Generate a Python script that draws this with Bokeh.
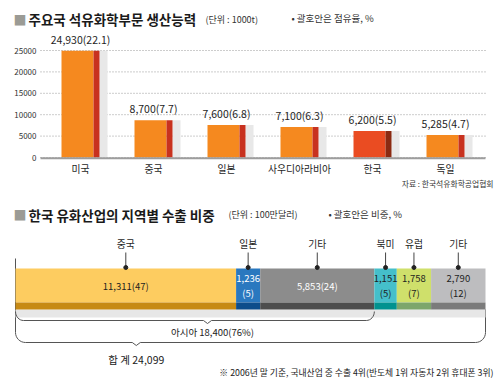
import math
from bokeh.plotting import figure
from bokeh.models import Range1d
from bokeh.embed import file_html
from bokeh.resources import INLINE
from bokeh.core.properties import value

FONT = "Noto Sans CJK KR"

# ---------------- data: chart 1 (production capacity, 1000t) ----------------
countries = ["미국", "중국", "일본", "사우디아라비아", "한국", "독일"]
capacity = [24930, 8700, 7600, 7100, 6200, 5285]
capacity_share = [22.1, 7.7, 6.8, 6.3, 5.5, 4.7]
y_ticks = [0, 5000, 10000, 15000, 20000, 25000]

# ---------------- data: chart 2 (exports by region, $1M) ----------------
regions = ["중국", "일본", "기타", "북미", "유럽", "기타"]
exports = [11311, 1236, 5853, 1151, 1758, 2790]
export_share = [47, 5, 24, 5, 7, 12]

W, H = 500, 387

# chart 1 scale: category i centred at px 80 + 73 i ; value 0 at px 157, 4.28 px / 1000
CAT_PX = 73.0
CAT0_PX = 80.0
VPX = 0.00428
ZERO_PX = 157.0
x1_range = Range1d(-CAT0_PX / CAT_PX, (W - CAT0_PX) / CAT_PX)
y1_range = Range1d((ZERO_PX - H) / VPX, ZERO_PX / VPX)

total = sum(exports)
# chart 2 scale: 0 at px 15, total at px 485
SX = 470.0 / total
BAR0_PX = 15.0

p = figure(width=W, height=H, x_range=x1_range, y_range=y1_range,
           output_backend="svg", toolbar_location=None,
           x_axis_location=None, y_axis_location=None,
           min_border_left=0, min_border_right=0, min_border_top=0, min_border_bottom=0,
           outline_line_color=None, background_fill_color="white", border_fill_color="white")
p.grid.visible = False
p.extra_x_ranges = {"x2": Range1d(-BAR0_PX / SX, (W - BAR0_PX) / SX), "px": Range1d(0, W)}
p.extra_y_ranges = {"px": Range1d(H, 0)}

def cx(px):   # chart-1 x units for a pixel distance
    return px / CAT_PX

def vy(px):   # chart-1 value units for a pixel distance
    return px / VPX

def ptext(x, y, text, size, color="#222222", align="left", bold=False, rn=("px", "px")):
    p.text(x=[x], y=[y], text=[text], text_font=value(FONT), text_font_size=size,
           text_color=color, text_align=align, text_baseline="middle",
           text_font_style="bold" if bold else "normal",
           x_range_name=rn[0], y_range_name=rn[1])

# ====================== chart 1 ======================
idx = list(range(len(countries)))
gl, gr = -CAT0_PX / CAT_PX + cx(40), -CAT0_PX / CAT_PX + cx(485)

# dotted grid
p.segment(x0=[gl] * len(y_ticks), x1=[gr] * len(y_ticks), y0=y_ticks, y1=y_ticks,
          line_color="#9a9a9a", line_dash="1 2", line_width=1)
# tick labels
p.text(x=[gl - cx(4)] * len(y_ticks), y=y_ticks, text=[str(t) for t in y_ticks],
       text_align="right", text_baseline="middle", text_font=value(FONT),
       text_font_size="8px", text_color="#333333")

main_col = ["#ea4c22" if c == "한국" else "#f5891f" for c in countries]
stripe_col = ["#8a2a12" if c == "한국" else "#c8321f" for c in countries]

p.vbar(x=[i + cx(23) for i in idx], width=cx(8), top=capacity, bottom=0,
       color="#e8e8e8", line_color=None)
p.vbar(x=[i - cx(3) for i in idx], width=cx(32), top=capacity, bottom=0,
       color=main_col, line_color=None)
p.vbar(x=[i + cx(16) for i in idx], width=cx(6), top=capacity, bottom=0,
       color=stripe_col, line_color=None)

# baseline
p.segment(x0=[gl], x1=[gr], y0=[-vy(0.8)], y1=[-vy(0.8)], line_color="#9d9d9d", line_width=2)

# value labels
p.text(x=idx, y=[c + vy(4) for c in capacity],
       text=[f"{c:,}({s})" for c, s in zip(capacity, capacity_share)],
       text_align="center", text_baseline="bottom",
       text_font=value(FONT), text_font_size="10.5px", text_color="#1e1e1e")
# category labels
p.text(x=idx, y=[-vy(11)] * len(idx), text=countries,
       text_align="center", text_baseline="middle",
       text_font=value(FONT), text_font_size="9.8px", text_color="#1e1e1e")

ptext(13, 18.5, "■", "13px", color="#9b9b95")
ptext(28, 18.5, "주요국 석유화학부문 생산능력", "13.5px", color="#1a1a1a", bold=True)
ptext(205, 18.5, "(단위 : 1000t)", "9px", color="#333333")
ptext(291, 17.5, "• 괄호안은 점유율, %", "9.5px", color="#333333")
ptext(493, 183, "자료 : 한국석유화학공업협회", "7.8px", color="#333333", align="right")

# ====================== chart 2 ======================
R2 = ("x2", "px")
ends = []
acc = 0
for v in exports:
    acc += v
    ends.append(acc)
starts = [e - v for e, v in zip(ends, exports)]
centers = [(s + e) / 2 for s, e in zip(starts, ends)]

seg_col = ["#fdcc60", "#2a78bf", "#8c8c8c", "#45bfca", "#cfe06b", "#bdbdbf"]
seg_dark = ["#c78a14", "#0d4d8b", "#4d4d4d", "#01928f", "#7da66b", "#7b7b7b"]
txt_col = ["#1e1e1e", "white", "white", "#1e1e1e", "#1e1e1e", "#1e1e1e"]

LC = "#555555"
kw = dict(x_range_name="x2", y_range_name="px")
p.segment(x0=[0], y0=[258], x1=[0], y1=[332], line_color=LC, line_width=1, **kw)
p.segment(x0=[total], y0=[309], x1=[total], y1=[332], line_color=LC, line_width=1, **kw)

p.hbar(y=313, height=8, left=0, right=total, color="#e7e7e7", line_color=None, **kw)
p.hbar(y=285, height=34, left=starts, right=ends, color=seg_col, line_color=None, **kw)
p.hbar(y=305.5, height=7, left=starts, right=ends, color=seg_dark, line_color=None, **kw)

p.segment(x0=centers, y0=[252] * 6, x1=centers, y1=[267] * 6, line_color="#444444",
          line_width=1, **kw)
p.scatter(x=centers, y=[267] * 6, size=4, color="#222222", **kw)
p.text(x=centers, y=[243] * 6, text=regions, text_align="center", text_baseline="middle",
       text_font=value(FONT), text_font_size="9.8px", text_color="#1e1e1e", **kw)

for c, v, s, col in zip(centers, exports, export_share, txt_col):
    if v * SX < 60:
        p.text(x=[c, c], y=[278, 292], text=[f"{v:,}", f"({s})"], text_align="center",
               text_baseline="middle", text_font=value(FONT), text_font_size="9.5px",
               text_color=col, **kw)
    else:
        p.text(x=[c], y=[285], text=[f"{v:,}({s})"], text_align="center",
               text_baseline="middle", text_font=value(FONT), text_font_size="9.5px",
               text_color=col, **kw)

def brace(xa, xb, y_end, y_line, tip_frac, r_px, tip_px=4, depth=3):
    rx = r_px / SX
    tw = tip_px / SX
    xs, ys = [], []
    for k in range(9):
        t = k / 8 * math.pi / 2
        xs.append(xa + rx * (1 - math.cos(t)))
        ys.append(y_end + (y_line - y_end) * math.sin(t))
    tip = xa + tip_frac * (xb - xa)
    xs += [tip - tw, tip, tip + tw]
    ys += [y_line, y_line + depth, y_line]
    for k in range(9):
        t = (8 - k) / 8 * math.pi / 2
        xs.append(xb - rx * (1 - math.cos(t)))
        ys.append(y_end + (y_line - y_end) * math.sin(t))
    p.line(xs, ys, line_color=LC, line_width=1, **kw)
    return tip

asia_total = sum(exports[:3])
asia_share = sum(export_share[:3])
tip_a = brace(0, asia_total, 311, 320, 0.535, 8)
tip_t = brace(0, total, 332, 342, 0.257, 10)

ptext(tip_a + 5 / SX, 331.5, f"아시아 {asia_total:,}({asia_share}%)", "9.5px",
      align="center", rn=R2)
ptext(tip_t, 359, f"합 계 {total:,}", "10.5px", align="center", rn=R2)

ptext(13, 214, "■", "13px", color="#9b9b95")
ptext(28, 214, "한국 유화산업의 지역별 수출 비중", "13.5px", color="#1a1a1a", bold=True)
ptext(228, 214, "(단위 : 100만달러)", "9px", color="#333333")
ptext(328, 213, "• 괄호안은 비중, %", "9.5px", color="#333333")
ptext(493, 372, "※ 2006년 말 기준, 국내산업 중 수출 4위(반도체 1위 자동차 2위 휴대폰 3위)",
      "8.8px", color="#222222", align="right")

open("out.html", "w").write(file_html(p, INLINE))
